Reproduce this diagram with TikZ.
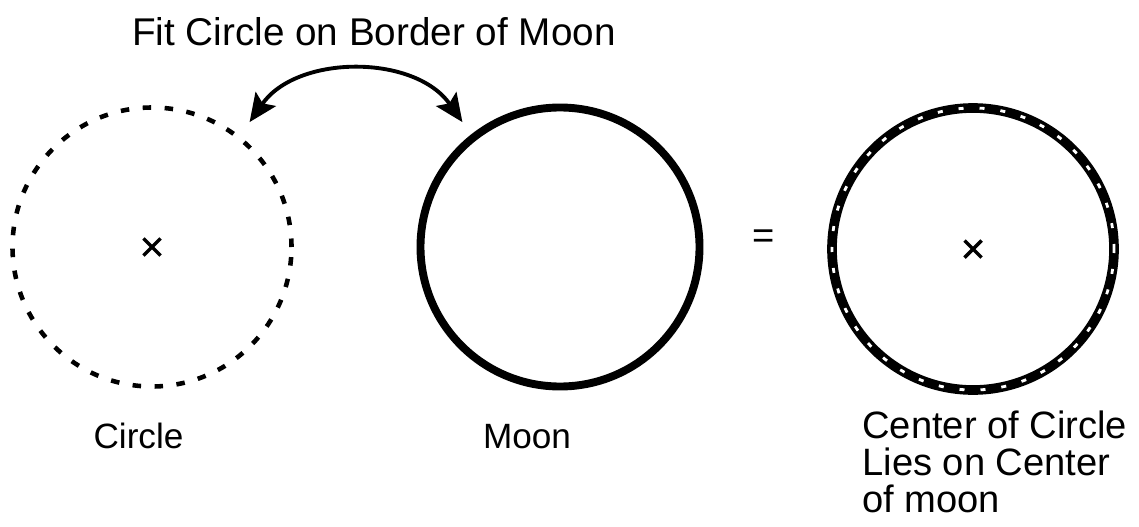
\documentclass[tikz,border=0pt]{standalone}
\usepackage{fontspec}
\setmainfont{Liberation Sans}
\usetikzlibrary{arrows.meta, positioning, shapes.misc}

\begin{document}
\begin{tikzpicture}[
  ring/.style={circle, minimum size=5.58cm, inner sep=0pt, outer sep=0.38cm},
  dotring/.style={ring, draw, line width=2.6pt, dash pattern=on 0.17cm off 0.27cm},
  moonring/.style={ring, draw, line width=4.5pt},
  fitring/.style={ring, minimum size=5.64cm, draw, line width=5.5pt,
                  postaction={draw=white, line width=1.6pt, dash pattern=on 0.1cm off 0.32cm}},
  xmark/.style={cross out, draw, line width=2pt, minimum size=0.27cm, inner sep=0pt},
  lbl/.style={font=\fontsize{20}{21}\selectfont, inner sep=0pt},
  bigl/.style={font=\fontsize{21.7}{21}\selectfont, inner sep=0pt},
  arr/.style={{Stealth[length=16pt, width=14pt, inset=3pt]}-{Stealth[length=16pt, width=14pt, inset=3pt]}, line width=2.2pt},
]
  \useasboundingbox (0,0) rectangle (22.78,-10.54);
  \node[bigl, font=\fontsize{22}{22}\selectfont, anchor=base] (title) at (7.48,-0.92) {Fit Circle on Border of Moon};
  \node[dotring] (circ) at (3.04,-4.94) {};
  \node[moonring] (moon) at (11.2,-4.94) {};
  \node[fitring] (fitted) at (19.46,-4.98) {};
  \node[xmark] (circx) at (circ.center) {};
  \node[xmark] (fitx) at (fitted.center) {};
  \node[bigl] (eq) at (15.28,-4.78) {=};
  \node[lbl, anchor=base] (lblcirc) at (2.77,-8.96) {Circle};
  \node[lbl, anchor=base] (lblmoon) at (10.54,-8.96) {Moon};
  \node[bigl, anchor=base west, align=left] (lblfit) at (17.24,-10.24)
    {Center of Circle\\Lies on Center\\of moon};
  \draw[arr] (circ.52) to[out=55, in=125] (moon.128);
\end{tikzpicture}
\end{document}
